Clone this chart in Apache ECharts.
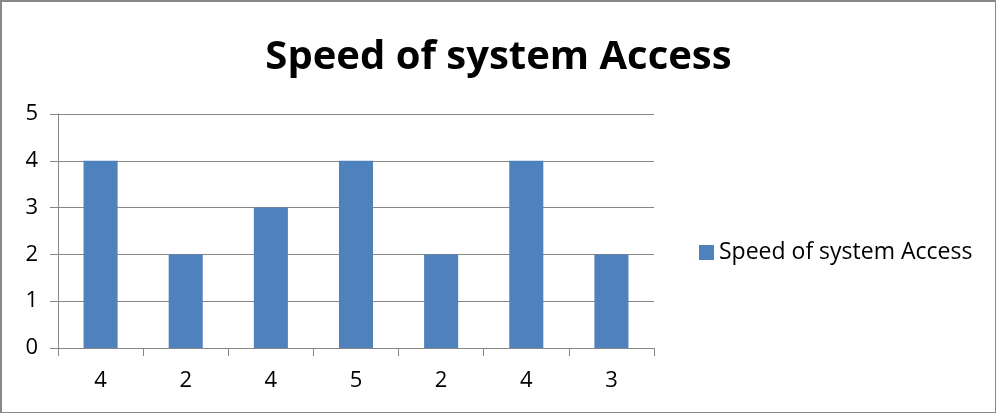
<!DOCTYPE html>
<html>
<head>
<meta charset="utf-8">
<script src="https://cdn.jsdelivr.net/npm/echarts@6/dist/echarts.min.js"></script>
<style>
  html, body { margin: 0; padding: 0; background: #fff; }
  #chart { width: 996px; height: 413px; box-sizing: border-box; border: 2px solid #888; border-right-width: 1px; border-bottom-width: 1px; }
</style>
</head>
<body>
<div id="chart"></div>
<script>
var categories = ['4', '2', '4', '5', '2', '4', '3'];
var values = [4, 2, 3, 4, 2, 4, 2];
var seriesName = 'Speed of system Access';

var myChart = echarts.init(document.getElementById('chart'));
var font = 'Open Sans';
myChart.setOption({
  animation: false,
  title: {
    text: 'Speed of system Access',
    left: 'center',
    top: 31,
    textStyle: { fontFamily: font, fontWeight: 'bold', fontSize: 40, color: '#000' }
  },
  legend: {
    data: [seriesName],
    left: 692,
    top: 234,
    itemWidth: 15,
    itemHeight: 15,
    itemGap: 6,
    icon: 'rect',
    textStyle: { fontFamily: font, fontSize: 23, color: '#000' }
  },
  grid: { left: 56, right: 341, top: 112, bottom: 64 },
  xAxis: {
    type: 'category',
    data: categories,
    axisLine: { lineStyle: { color: '#868686', width: 1 } },
    axisTick: { show: true, length: 8, lineStyle: { color: '#868686' } },
    axisLabel: { margin: 22, fontFamily: font, fontSize: 22, color: '#000' }
  },
  yAxis: {
    type: 'value',
    min: 0,
    max: 5,
    interval: 1,
    axisLine: { show: true, lineStyle: { color: '#868686', width: 1 } },
    axisTick: { show: true, length: 8, lineStyle: { color: '#868686' } },
    axisLabel: { margin: 20, fontFamily: font, fontSize: 22, color: '#000' },
    splitLine: { lineStyle: { color: '#868686', width: 1 } }
  },
  series: [{
    name: seriesName,
    type: 'bar',
    data: values,
    barWidth: '40%',
    itemStyle: { color: '#4F81BD' }
  }]
});
</script>
</body>
</html>
